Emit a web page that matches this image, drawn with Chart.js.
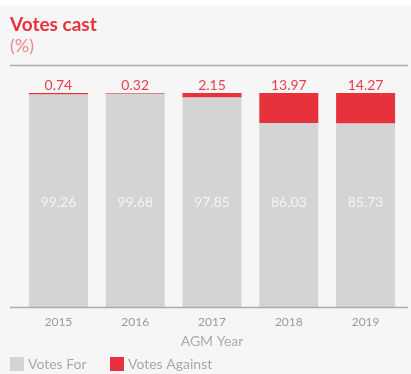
<!DOCTYPE html>
<html>
<head>
<meta charset="utf-8">
<script src="https://cdn.jsdelivr.net/npm/chart.js@4.4.1/dist/chart.umd.min.js"></script>
<style>
  html, body { margin: 0; padding: 0; background: #ffffff; }
  canvas { display: block; }
</style>
</head>
<body>
<canvas id="myChart" width="411" height="374"></canvas>
<script>
var years = ['2015', '2016', '2017', '2018', '2019'];
var votesFor = [99.26, 99.68, 97.85, 86.03, 85.73];
var votesAgainst = [0.74, 0.32, 2.15, 13.97, 14.27];
var seriesNames = ['Votes For', 'Votes Against'];

var grey = '#d4d4d4';
var red = '#e8323b';

Chart.defaults.font.family = 'Lato, "Open Sans", sans-serif';

// panel background, rules, value labels and legend
var decorations = {
    id: 'decorations',
    beforeDraw: function (chart) {
        var ctx = chart.ctx;
        ctx.save();
        ctx.fillStyle = '#ffffff';
        ctx.fillRect(0, 0, chart.width, chart.height);
        ctx.fillStyle = '#f6f6f6';
        ctx.fillRect(0, 6, chart.width, chart.height - 6);
        ctx.restore();
    },
    afterDraw: function (chart) {
        var ctx = chart.ctx;
        var area = chart.chartArea;
        ctx.save();

        // top rule and base line
        ctx.strokeStyle = '#ababab';
        ctx.lineWidth = 1.5;
        ctx.beginPath();
        ctx.moveTo(10, 65.5);
        ctx.lineTo(408, 65.5);
        ctx.moveTo(10, area.bottom + 0.5);
        ctx.lineTo(408, area.bottom + 0.5);
        ctx.stroke();

        ctx.textAlign = 'center';
        ctx.textBaseline = 'middle';
        ctx.font = '14px Lato';

        var forMeta = chart.getDatasetMeta(0);
        var againstMeta = chart.getDatasetMeta(1);
        var midY = (area.top + area.bottom) / 2 + 2;
        forMeta.data.forEach(function (bar, i) {
            ctx.fillStyle = '#f4f4f4';
            ctx.fillText(votesFor[i].toFixed(2), bar.x, midY);
        });
        againstMeta.data.forEach(function (bar, i) {
            ctx.fillStyle = '#e8404a';
            ctx.fillText(votesAgainst[i].toFixed(2), bar.x, bar.y - 8);
        });

        // legend
        var colors = [grey, red];
        var xs = [10, 110];
        ctx.textAlign = 'left';
        ctx.font = '14px Lato';
        seriesNames.forEach(function (name, i) {
            ctx.fillStyle = colors[i];
            ctx.fillRect(xs[i], 357, 14, 14);
            ctx.fillStyle = '#a9a9a9';
            ctx.fillText(name, xs[i] + 18, 364.5);
        });
        ctx.restore();
    }
};

var ctx = document.getElementById('myChart').getContext('2d');

var myChart = new Chart(ctx, {
    type: 'bar',
    data: {
        labels: years,
        datasets: [{
            label: seriesNames[0],
            data: votesFor,
            backgroundColor: grey,
            categoryPercentage: 1,
            barPercentage: 0.768
        }, {
            label: seriesNames[1],
            data: votesAgainst,
            backgroundColor: red,
            categoryPercentage: 1,
            barPercentage: 0.768
        }]
    },
    options: {
        responsive: false,
        animation: false,
        devicePixelRatio: 1,
        layout: {
            padding: { left: 10, right: 7, top: 0, bottom: 21 }
        },
        plugins: {
            legend: { display: false },
            tooltip: { enabled: false },
            title: {
                display: true,
                text: 'Votes cast',
                align: 'start',
                color: '#e8323b',
                font: { size: 19, weight: 'bold' },
                padding: { top: 13, bottom: 0 }
            },
            subtitle: {
                display: true,
                text: '(%)',
                align: 'start',
                color: '#f0858b',
                font: { size: 18, weight: 'normal' },
                padding: { top: 0, bottom: 35.6 }
            }
        },
        scales: {
            x: {
                stacked: true,
                grid: { display: false, drawTicks: false },
                border: { display: false },
                ticks: { color: '#9a9a9a', font: { size: 12 }, padding: 8 },
                title: {
                    display: true,
                    text: 'AGM Year',
                    color: '#ababab',
                    font: { size: 14 },
                    padding: { top: 4, bottom: 3 }
                },
                afterFit: function (scale) { scale.height = 46; }
            },
            y: {
                stacked: true,
                min: 0,
                max: 100,
                grid: { display: false },
                border: { display: false },
                ticks: { display: false },
                afterFit: function (scale) { scale.width = 10; }
            }
        }
    },
    plugins: [decorations]
});
</script>
</body>
</html>
